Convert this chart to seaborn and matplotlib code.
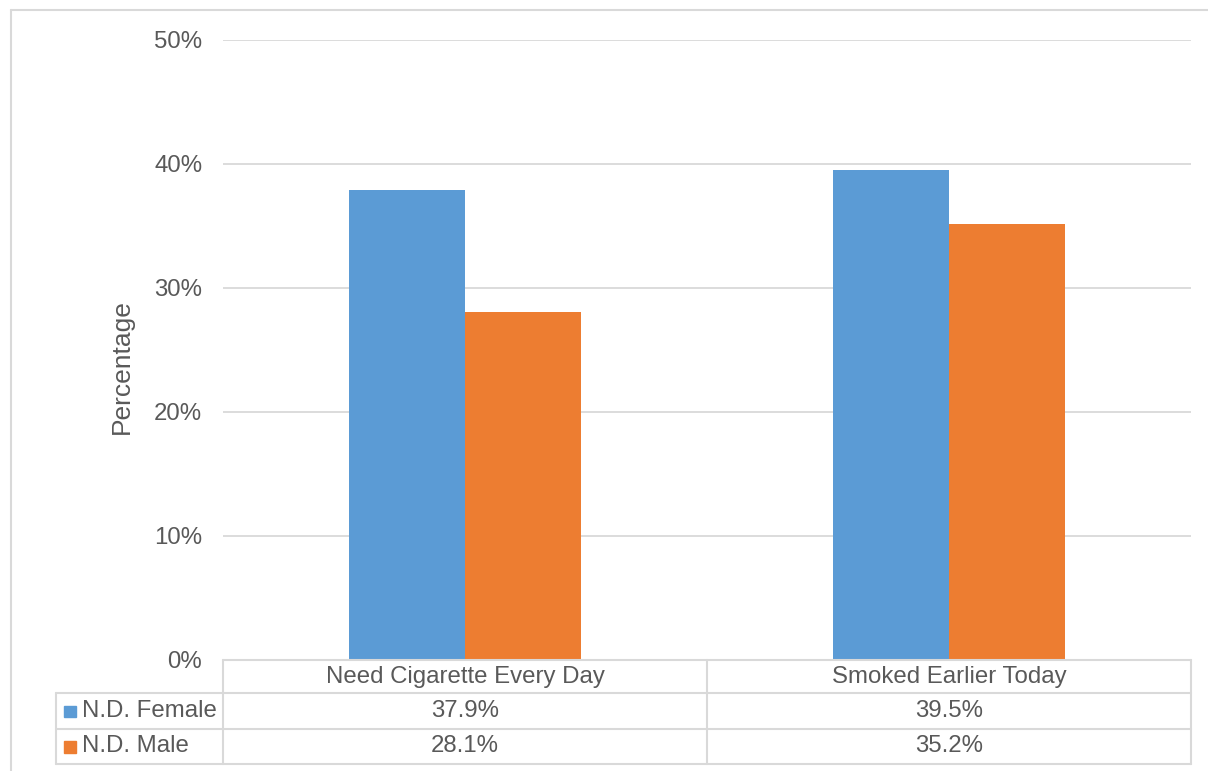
import matplotlib
matplotlib.use("Agg")
import matplotlib.pyplot as plt
from matplotlib.lines import Line2D
from matplotlib.patches import Rectangle
import seaborn as sns
import pandas as pd

# data
categories = ["Need Cigarette Every Day", "Smoked Earlier Today"]
series = ["N.D. Female", "N.D. Male"]
female = [37.9, 39.5]
male = [28.1, 35.2]
yticks = [0, 10, 20, 30, 40, 50]

colors = ["#5B9BD5", "#ED7D31"]
text_c = "#595959"
grid_c = "#D9D9D9"
fs = 17.3

df = pd.DataFrame({
    "category": categories * 2,
    "series": [series[0]] * 2 + [series[1]] * 2,
    "value": female + male,
})

sns.set_theme(style="white")
plt.rcParams["font.family"] = ["Liberation Sans", "DejaVu Sans"]

W, H = 1208, 771
fig = plt.figure(figsize=(W / 100, H / 100), dpi=100)

def fx(x):
    return x / W

def fy(y):
    return 1 - y / H

ax = fig.add_axes([fx(223), fy(660), fx(1191) - fx(223), fy(40) - fy(660)])
sns.barplot(data=df, x="category", y="value", hue="series", palette=colors,
            width=0.48, saturation=1, linewidth=0, ax=ax, legend=False)

ax.set_ylim(0, 50)
ax.set_yticks(yticks)
ax.set_yticklabels([f"{t}%" for t in yticks])
ax.set_xlim(-0.5, len(categories) - 0.5)
ax.set_xticks([])
ax.set_xlabel("")
ax.yaxis.grid(True, color=grid_c, linewidth=1.3)
ax.set_axisbelow(True)
for s in ax.spines.values():
    s.set_visible(False)
ax.tick_params(axis="y", length=0, pad=15, labelsize=fs, labelcolor=text_c)
ax.set_ylabel("Percentage", fontsize=19, color=text_c)
ax.yaxis.set_label_coords(-0.092, 0.473)

# data table below the plot
rows_y = [660, 693, 729, 764]
col_x = [223, 707, 1191]
left_x = 56
lw = 1.5

def hline(x0, x1, y):
    fig.add_artist(Line2D([fx(x0), fx(x1)], [fy(y), fy(y)], color=grid_c, lw=lw))

def vline(x, y0, y1):
    fig.add_artist(Line2D([fx(x), fx(x)], [fy(y0), fy(y1)], color=grid_c, lw=lw))

hline(col_x[0], col_x[-1], rows_y[0])
for y in rows_y[1:]:
    hline(left_x, col_x[-1], y)
for x in col_x:
    vline(x, rows_y[0], rows_y[-1])
vline(left_x, rows_y[1], rows_y[-1])

for i, cat in enumerate(categories):
    cx = (col_x[i] + col_x[i + 1]) / 2
    fig.text(fx(cx), fy((rows_y[0] + rows_y[1]) / 2), cat, ha="center", va="center",
             fontsize=fs, color=text_c)
    for r, vals in enumerate([female, male]):
        cy = (rows_y[r + 1] + rows_y[r + 2]) / 2
        fig.text(fx(cx), fy(cy), f"{vals[i]:.1f}%", ha="center", va="center",
                 fontsize=fs, color=text_c)

for r, name in enumerate(series):
    cy = (rows_y[r + 1] + rows_y[r + 2]) / 2
    fig.add_artist(Rectangle((fx(64), fy(cy + 6)), fx(12), 11.5 / H, color=colors[r]))
    fig.text(fx(82), fy(cy), name, ha="left", va="center", fontsize=fs, color=text_c)

# chart area border
fig.add_artist(Line2D([fx(11), fx(W + 5)], [fy(10), fy(10)], color=grid_c, lw=1.5))
fig.add_artist(Line2D([fx(11), fx(11)], [fy(10), fy(H + 5)], color=grid_c, lw=1.5))

fig.savefig("out.png", dpi=100)
